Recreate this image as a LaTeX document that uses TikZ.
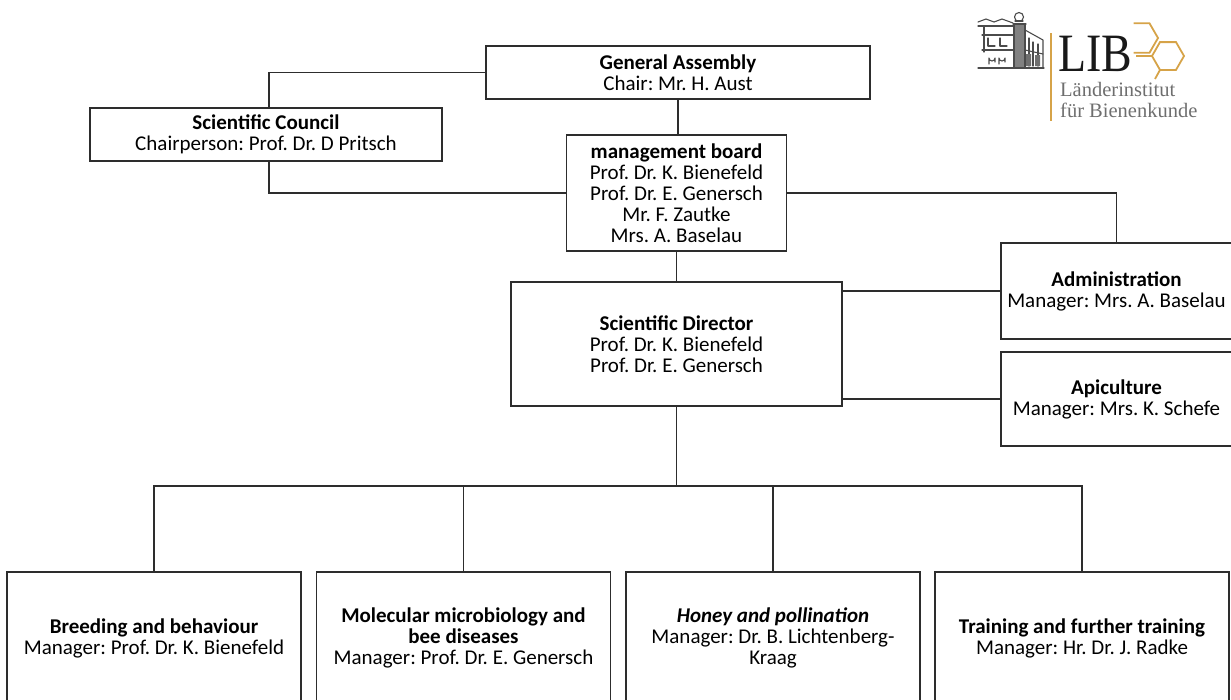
\documentclass[tikz,border=0pt]{standalone}
\usepackage{fontspec}
\setmainfont{Carlito}
\newfontfamily\logofont{Liberation Serif}
\usetikzlibrary{calc}
\definecolor{gold}{RGB}{214,163,72}
\definecolor{linec}{RGB}{45,45,45}
\definecolor{logogray}{RGB}{110,110,110}
\definecolor{sketch}{RGB}{75,75,75}
\frenchspacing
\begin{document}
\frenchspacing
\begin{tikzpicture}[x=1pt,y=-1pt,
  box/.style={draw=linec, line width=1.2pt, fill=white, rectangle, inner sep=0pt,
    align=center, font=\fontsize{21}{21}\selectfont\frenchspacing},
  conn/.style={draw=linec, line width=1.2pt},
  hexline/.style={draw=gold, line width=1.8pt, line join=miter},
  sk/.style={draw=sketch, line width=1.1pt, line cap=round, line join=round}]
\useasboundingbox (0,0) rectangle (1231,699);

% boxes
\node[box, minimum width=384, minimum height=53] (GA) at (678,72.5)
  {\textbf{General Assembly}\\Chair: Mr. H. Aust};
\node[box, minimum width=352, minimum height=53] (SC) at (266,134.5)
  {\textbf{Scientific Council}\\Chairperson: Prof. Dr. D Pritsch};
\node[box, minimum width=220, minimum height=116] (MB) at (676.5,193)
  {\textbf{management board}\\Prof. Dr. K. Bienefeld\\Prof. Dr. E. Genersch\\Mr. F. Zautke\\Mrs. A. Baselau};
\node[box, minimum width=331, minimum height=124] (SD) at (676.5,344)
  {\textbf{Scientific Director}\\Prof. Dr. K. Bienefeld\\Prof. Dr. E. Genersch};
\node[box, minimum width=231, minimum height=96] (AD) at (1116.5,291)
  {\textbf{Administration}\\Manager: Mrs. A. Baselau};
\node[box, minimum width=231, minimum height=94] (AP) at (1116.5,399)
  {\textbf{Apiculture}\\Manager: Mrs. K. Schefe};
\node[box, minimum width=294, minimum height=132] (B1) at (154,638)
  {\textbf{Breeding and behaviour}\\Manager: Prof. Dr. K. Bienefeld};
\node[box, minimum width=294, minimum height=132] (B2) at (463.5,638)
  {\textbf{Molecular microbiology and}\\\textbf{bee diseases}\\Manager: Prof. Dr. E. Genersch};
\node[box, minimum width=294, minimum height=132] (B3) at (773,638)
  {\textbf{\textit{Honey and pollination}}\\Manager: Dr. B. Lichtenberg-\\Kraag};
\node[box, minimum width=294, minimum height=132] (B4) at (1082,638)
  {\textbf{Training and further training}\\Manager: Hr. Dr. J. Radke};

% connectors
\draw[conn] (GA.west) -| ([xshift=3pt]SC.north);
\draw[conn] ([xshift=3pt]SC.south) |- (MB.west);
\draw[conn] (GA.south) -- (GA.south |- MB.north);
\draw[conn] (MB.east) -| (AD.north);
\draw[conn] (MB.south) -- (SD.north);
\draw[conn] (AD.west) -- (AD.west -| SD.east);
\draw[conn] (AP.west) -- (AP.west -| SD.east);
\coordinate (bus) at (676.5,486);
\draw[conn] (SD.south) -- (bus);
\draw[conn] (B1.north) |- (bus) -| (B4.north);
\draw[conn] (B2.north) -- (B2.north |- bus);
\draw[conn] (B3.north) -- (B3.north |- bus);

% logo: building sketch
\fill[sketch!70] (1015,24) rectangle (1024,68);
\draw[sk] (1019,17) circle (4.5);
\draw[sk] (1015,21) -- (1023,21);
\draw[sk] (1013,24) -- (1026,24) (1014,24) -- (1014,68) (1025,24) -- (1025,68);
\draw[sk] (978,22) -- (986,19) -- (994,22) -- (1002,19) -- (1013,23);
\draw[sk] (978,26) -- (1013,26);
\draw[sk] (984,26) -- (984,52) (982,35) -- (1013,35) (982,50) -- (1013,50);
\draw[sk] (988,38) -- (988,46) -- (995,46) (1000,38) -- (1000,46) -- (1007,46);
\draw[sk] (989,64) -- (989,58) arc (180:0:3) -- (995,62);
\draw[sk] (999,64) -- (999,58) arc (180:0:3) -- (1005,62);
\draw[sk] (978,68) -- (1044,68);
\draw[sk] (1025,30) -- (1043,40) -- (1043,68);
\draw[sk] (1029,38) -- (1029,66) (1033,42) -- (1033,66) (1038,44) -- (1038,66);
\draw[sk] (1025,50) -- (1043,54);
\fill[sketch!80] (1026,54) rectangle (1031,66) (1035,55) rectangle (1040,66);

% logo: gold bar, text, hexagons
\draw[draw=gold, line width=2pt] (1051,33) -- (1051,121);
\draw[hexline] (1133.5,23.3) -- (1149.5,23.3) -- (1158,38) -- (1149.5,52.7) -- (1133.5,52.7);
\draw[hexline] (1184,56) -- (1176,69.9) -- (1160,69.9) -- (1152,56) -- (1160,42.1) -- (1176,42.1) -- cycle;
\draw[hexline] (1160,69.9) -- (1155,79);
\draw[hexline] (1136,56) -- (1152,56);
\node[anchor=base west, inner sep=0pt, font=\logofont\fontsize{54}{54}\selectfont, text=black!90] (LIB) at (1058,71) {\scalebox{0.85}[1]{LIB}};
\node[anchor=base west, inner sep=0pt, font=\logofont\fontsize{20.5}{20.5}\selectfont, text=logogray] (L1) at (1060,96) {Länderinstitut};
\node[anchor=base west, inner sep=0pt, font=\logofont\fontsize{20.5}{20.5}\selectfont, text=logogray] (L2) at (1060,117) {für Bienenkunde};
\end{tikzpicture}
\end{document}
